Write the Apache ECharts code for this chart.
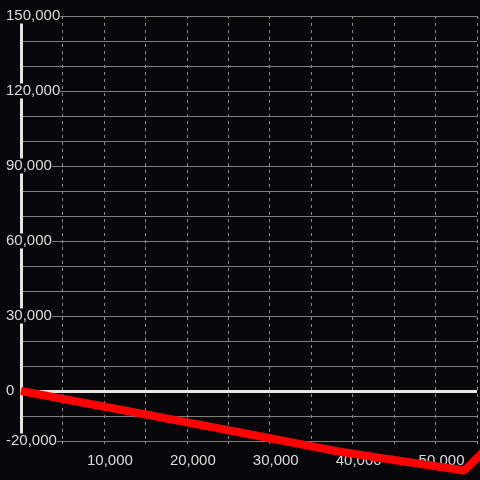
<!DOCTYPE html>
<html>
<head>
<meta charset="utf-8">
<script src="https://cdn.jsdelivr.net/npm/echarts@6/dist/echarts.min.js"></script>
<style>
  html, body { margin: 0; padding: 0; background: #07070a; }
  #box { width: 480px; height: 480px; }
</style>
</head>
<body>
<div id="box"></div>
<script>
// values
var xValues = [0, 13000, 26000, 38000, 43000, 53500, 56000];
var yValues = [0, -8100, -16300, -24000, -26600, -31800, -23600];
var yLabelValues = [-20000, 0, 30000, 60000, 90000, 120000, 150000];
var xLabelValues = [10000, 20000, 30000, 40000, 50000];

var chart = echarts.init(document.getElementById('box'));

var points = xValues.map(function(x, i) {
  return [x, yValues[i]];
});

function fmt(v) {
  return v.toLocaleString('en-US');
}

var labelFont = { color: '#dcdcdc', fontSize: 15, fontFamily: 'Liberation Sans' };

option = {
  backgroundColor: '#07070a',
  animation: false,
  grid: { left: 21, right: 0, top: 16, bottom: 39 },
  xAxis: {
    type: 'value',
    min: 0,
    max: 55000,
    interval: 5000,
    axisLine: { show: false, onZero: false },
    axisTick: {
      show: true,
      length: 7,
      lineStyle: { color: '#8a8a8a', type: [3, 4] }
    },
    axisLabel: Object.assign({
      margin: 12,
      padding: [0, 0, 0, 12],
      formatter: function(v) {
        return xLabelValues.indexOf(v) >= 0 ? fmt(v) : '';
      }
    }, labelFont),
    splitLine: {
      show: true,
      lineStyle: { color: '#8a8a8a', type: [3, 4], width: 1 }
    }
  },
  yAxis: {
    type: 'value',
    min: -20000,
    max: 150000,
    interval: 10000,
    axisLine: { show: true, lineStyle: { color: '#e4e4e0', width: 3 } },
    axisTick: { show: false },
    axisLabel: Object.assign({
      margin: 15,
      align: 'left',
      backgroundColor: '#07070a',
      lineHeight: 15,
      formatter: function(v) {
        return yLabelValues.indexOf(v) >= 0 ? fmt(v) : '';
      }
    }, labelFont),
    splitLine: {
      show: true,
      lineStyle: { color: '#7f7f7f', type: 'solid', width: 1 }
    }
  },
  series: [{
    name: 'zero',
    type: 'line',
    data: [],
    z: 1,
    markLine: {
      silent: true,
      symbol: ['none', 'none'],
      label: { show: false },
      lineStyle: { color: '#e8e8e2', width: 3, type: 'solid' },
      data: [{ yAxis: 0 }]
    }
  }, {
    name: 'value',
    type: 'line',
    data: points,
    z: 5,
    clip: false,
    showSymbol: false,
    lineStyle: { color: '#ff0000', width: 8 }
  }]
};

chart.setOption(option);
</script>
</body>
</html>
